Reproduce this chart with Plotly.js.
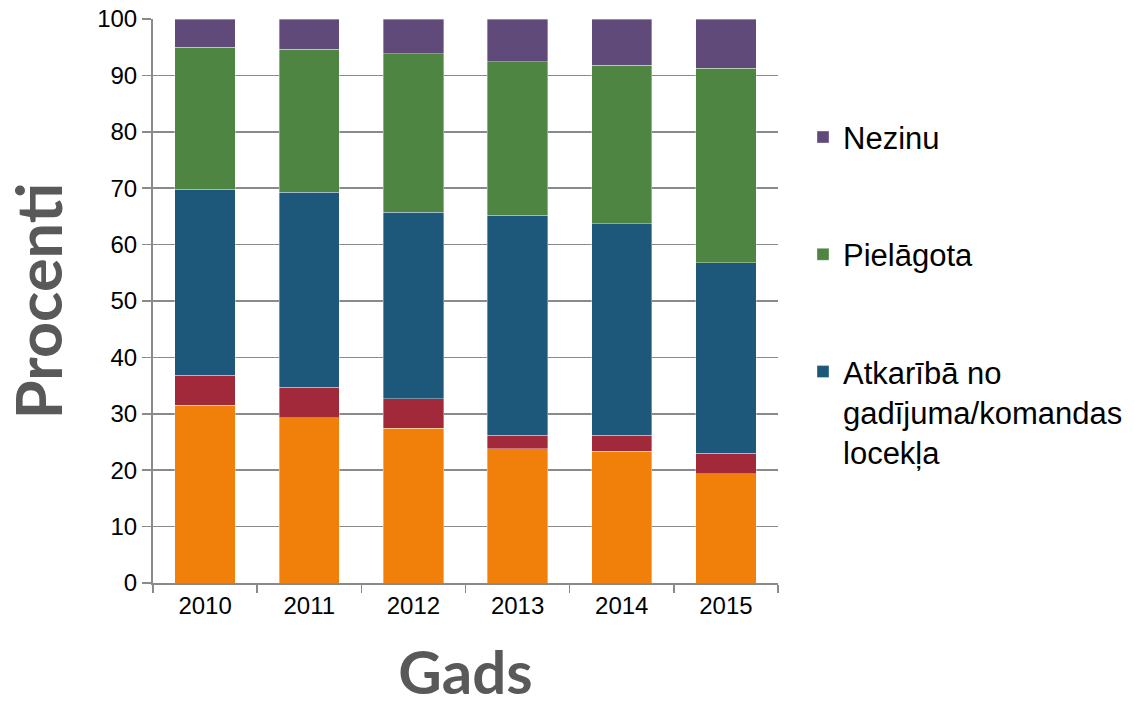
<!DOCTYPE html>
<html>
<head>
<meta charset="utf-8">
<script src="https://cdn.plot.ly/plotly-3.0.1.min.js"></script>
<style>
html,body{margin:0;padding:0;background:#fff;}
#chart{width:1134px;height:707px;}
</style>
</head>
<body>
<div id="chart"></div>
<script>
// Data (percent, stacked bottom to top)
const years = ["2010", "2011", "2012", "2013", "2014", "2015"];
const seriesOrange = [31.5, 29.3, 27.4, 23.8, 23.4, 19.4];
const seriesRed = [5.3, 5.4, 5.3, 2.4, 2.8, 3.6];
const seriesAtkariba = [33.0, 34.6, 33.0, 39.0, 37.5, 33.8];
const seriesPielagota = [25.2, 25.3, 28.1, 27.2, 28.1, 34.5];
const seriesNezinu = [5.0, 5.4, 6.2, 7.6, 8.2, 8.7];

const nameAtkariba = "Atkarībā no<br>gadījuma/komandas<br>locekļa";
const namePielagota = "Pielāgota";
const nameNezinu = "Nezinu";

const colors = {
  orange: "#F0800A",
  red: "#A12939",
  blue: "#1D5779",
  green: "#4E8542",
  purple: "#5F4A79"
};

function bar(y, name, color, show, group, rank) {
  return {
    type: "bar",
    x: years,
    y: y,
    name: name,
    showlegend: show,
    legendgroup: group,
    legendrank: rank,
    marker: { color: color, line: { color: "rgba(255,255,255,0.45)", width: 0.8 } },
    hoverinfo: "x+y+name"
  };
}

const data = [
  bar(seriesOrange, "", colors.orange, false, "g1", 5),
  bar(seriesRed, "", colors.red, false, "g2", 4),
  bar(seriesAtkariba, nameAtkariba, colors.blue, true, "g3", 3),
  bar(seriesPielagota, namePielagota, colors.green, true, "g4", 2),
  bar(seriesNezinu, nameNezinu, colors.purple, true, "g5", 1)
];

const layout = {
  width: 1134,
  height: 707,
  barmode: "stack",
  bargap: 0.42,
  paper_bgcolor: "#ffffff",
  plot_bgcolor: "#ffffff",
  font: { family: "Liberation Sans, Arial, sans-serif", color: "#000000" },
  margin: { l: 153, r: 356, t: 19, b: 124, pad: 0, autoexpand: false },
  xaxis: {
    type: "category",
    tickson: "boundaries",
    ticks: "outside",
    ticklen: 8,
    tickwidth: 1.5,
    tickcolor: "#8a8a8a",
    showline: true,
    linecolor: "#8a8a8a",
    linewidth: 2,
    showgrid: false,
    tickfont: { size: 24, color: "#000000" },
    title: {
      text: "Gads",
      standoff: 45,
      font: { family: "Lato, Open Sans, sans-serif", size: 60, weight: "bold", color: "#595959" }
    }
  },
  yaxis: {
    range: [0, 100],
    dtick: 10,
    ticks: "outside",
    ticklen: 9,
    tickwidth: 1.5,
    tickcolor: "#8a8a8a",
    showline: true,
    linecolor: "#8a8a8a",
    linewidth: 2,
    showgrid: true,
    gridcolor: "#8a8a8a",
    gridwidth: 1.5,
    zeroline: false,
    tickfont: { size: 24, color: "#000000" },
    title: {
      text: "Procenti",
      standoff: 14,
      font: { family: "Lato, Open Sans, sans-serif", size: 63, weight: "bold", color: "#595959" }
    }
  },
  legend: {
    x: 1.04,
    xanchor: "left",
    y: 0.838,
    yanchor: "top",
    traceorder: "grouped",
    tracegroupgap: 74,
    valign: "top",
    font: { size: 31, color: "#000000" },
    bgcolor: "rgba(0,0,0,0)"
  },
  showlegend: true
};

Plotly.newPlot("chart", data, layout, { displayModeBar: false, staticPlot: true });
</script>
</body>
</html>
